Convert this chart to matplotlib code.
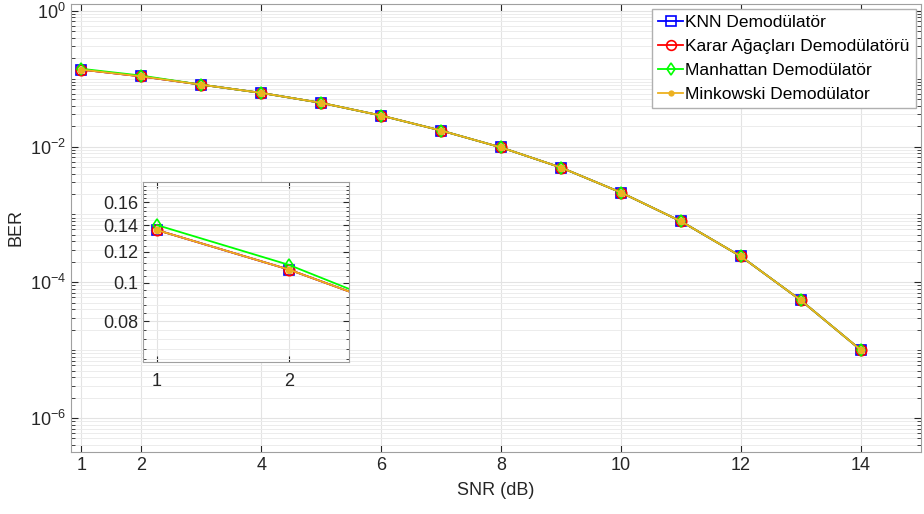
import matplotlib
matplotlib.use("Agg")
import matplotlib.pyplot as plt
from matplotlib.ticker import FixedLocator, FixedFormatter, LogLocator, NullFormatter
import numpy as np

plt.rcParams['font.family'] = ['Liberation Sans', 'DejaVu Sans']

snr = [1, 2, 3, 4, 5, 6, 7, 8, 9, 10, 11, 12, 13, 14]
knn = [0.136, 0.108, 0.0816, 0.0617, 0.044, 0.0286, 0.0172, 0.0097, 0.0049, 0.0021, 7.9e-4, 2.4e-4, 5.4e-5, 1.0e-5]
karar = [0.136, 0.108, 0.0816, 0.0617, 0.044, 0.0286, 0.0172, 0.0097, 0.0049, 0.0021, 7.9e-4, 2.4e-4, 5.4e-5, 1.0e-5]
manhattan = [0.140, 0.111, 0.0816, 0.0617, 0.044, 0.0286, 0.0172, 0.0097, 0.0049, 0.0021, 7.9e-4, 2.4e-4, 5.4e-5, 1.0e-5]
minkowski = [0.136, 0.108, 0.0816, 0.0617, 0.044, 0.0286, 0.0172, 0.0097, 0.0049, 0.0021, 7.9e-4, 2.4e-4, 5.4e-5, 1.0e-5]

labels = ['KNN Demodülatör', 'Karar Ağaçları Demodülatörü', 'Manhattan Demodülatör', 'Minkowski Demodülator']
xticks = [1, 2, 4, 6, 8, 10, 12, 14]
inset_yticks = [0.08, 0.1, 0.12, 0.14, 0.16]
inset_xticks = [1, 2]

C_BLUE = '#0000ff'
C_RED = '#ff0000'
C_GREEN = '#00ff00'
C_ORANGE = '#edb120'
AX_C = '#262626'

fig = plt.figure(figsize=(9.24, 5.14), dpi=100)
ax = fig.add_axes([71/924, 1-452/514, 850/924, 448/514])

def draw(a):
    a.plot(snr, knn, color=C_BLUE, marker='s', mfc='none', ms=7.5, mew=1.2, lw=1.3, label=labels[0])
    a.plot(snr, karar, color=C_RED, marker='o', mfc='none', ms=7.5, mew=1.2, lw=1.3, label=labels[1])
    a.plot(snr, manhattan, color=C_GREEN, marker='d', mfc='none', ms=6.5, mew=1.2, lw=1.3, label=labels[2])
    a.plot(snr, minkowski, color=C_ORANGE, marker='o', ms=5.5, mew=0, lw=1.3, label=labels[3])

draw(ax)
ax.set_yscale('log')
ax.set_xlim(0.83, 15.0)
ax.set_ylim(10**-6.5, 10**0.1)
ax.set_xticks(xticks)
ax.set_xticklabels([str(t) for t in xticks])
ax.yaxis.set_major_locator(FixedLocator([1e-6, 1e-4, 1e-2, 1e0]))
ax.yaxis.set_minor_locator(LogLocator(base=10, subs=np.arange(1, 10), numticks=20))
ax.yaxis.set_minor_formatter(NullFormatter())
ax.set_yticklabels([r'$\mathregular{10^{-6}}$', r'$\mathregular{10^{-4}}$', r'$\mathregular{10^{-2}}$', r'$\mathregular{10^{0}}$'])
ax.grid(True, which='major', color='#e3e3e3', lw=0.8)
ax.grid(True, which='minor', axis='y', color='#ececec', lw=0.7)
ax.set_axisbelow(True)
ax.tick_params(direction='in', which='both', top=True, right=True, labelsize=13, colors=AX_C, length=5)
ax.tick_params(which='minor', length=3)
for s in ax.spines.values():
    s.set_color('#a0a0a0')
ax.set_xlabel('SNR (dB)', fontsize=13, color=AX_C, labelpad=6)
ax.set_ylabel('BER', fontsize=13, color=AX_C, labelpad=4)

leg = ax.legend(loc='upper right', fontsize=12.5, handlelength=1.4, handletextpad=0.15,
                borderaxespad=0.3, borderpad=0.35, labelspacing=0.5, fancybox=False,
                framealpha=1, edgecolor='#b0b0b0')
for h in leg.legend_handles:
    h.set_markersize(6 if h.get_marker() == 'd' else (4.5 if h.get_label() == labels[3] else 7))

# inset
ax2 = fig.add_axes([143/924, 1-362/514, 206/924, 180/514])
draw(ax2)
ax2.set_yscale('log')
ax2.set_xlim(0.894, 2.455)
ax2.set_ylim(0.063, 0.18)
ax2.yaxis.set_major_locator(FixedLocator(inset_yticks))
ax2.yaxis.set_major_formatter(FixedFormatter([f'{v:g}' for v in inset_yticks]))
ax2.yaxis.set_minor_locator(FixedLocator(list(np.arange(0.064, 0.18, 0.004))))
ax2.yaxis.set_minor_formatter(NullFormatter())
ax2.set_xticks(inset_xticks)
ax2.set_xticklabels([str(t) for t in inset_xticks])
ax2.grid(True, which='major', color='#e3e3e3', lw=0.8)
ax2.grid(True, which='minor', axis='y', color='#ececec', lw=0.7)
ax2.set_axisbelow(True)
ax2.tick_params(direction='in', which='both', top=True, right=True, labelsize=13, colors=AX_C, length=4)
ax2.tick_params(which='minor', length=2)
ax2.tick_params(axis='x', pad=8)
for s in ax2.spines.values():
    s.set_color('#a0a0a0')

fig.savefig('out.png', dpi=100)
